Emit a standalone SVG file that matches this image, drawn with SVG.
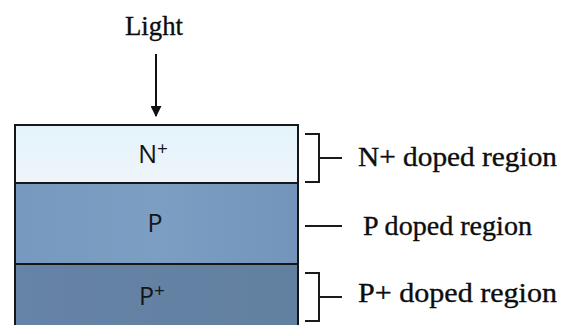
<svg xmlns="http://www.w3.org/2000/svg" width="563" height="325" viewBox="0 0 563 325">
<defs>
<linearGradient id="gN" x1="0" y1="0" x2="0" y2="1">
<stop offset="0" stop-color="#e4f3fb"/>
<stop offset="1" stop-color="#eef5fa"/>
</linearGradient>
<linearGradient id="gP" x1="0" y1="0" x2="1" y2="0">
<stop offset="0" stop-color="#7799bf"/>
<stop offset="0.5" stop-color="#7c9ec3"/>
<stop offset="1" stop-color="#7495bb"/>
</linearGradient>
<linearGradient id="gPP" x1="0" y1="0" x2="1" y2="0">
<stop offset="0" stop-color="#6683a8"/>
<stop offset="1" stop-color="#62809f"/>
</linearGradient>
<marker id="ah" viewBox="0 0 10 10" refX="9" refY="5" markerWidth="11" markerHeight="11" markerUnits="userSpaceOnUse" orient="auto">
<path d="M0,0 L10,5 L0,10 z" fill="#111"/>
</marker>
</defs>
<style>
.layer{stroke:#161616;stroke-width:2}
.inner{font-family:"Open Sans","Noto Sans",sans-serif;font-size:25px;fill:#151515;text-anchor:middle}
.sup{font-size:19px}
.lbl{font-family:"Liberation Serif","Times New Roman",serif;font-size:27px;fill:#0d0d0d;stroke:#0d0d0d;stroke-width:0.35}
.br{fill:none;stroke:#1a1a1a;stroke-width:2}
</style>
<rect width="563" height="325" fill="#ffffff"/>
<g id="light">
<text class="lbl" x="154" y="35" text-anchor="middle" textLength="58" lengthAdjust="spacingAndGlyphs">Light</text>
</g>
<g id="layer-n">
<rect class="layer" x="15" y="125" width="283" height="58" fill="url(#gN)"/>
<text class="inner" x="153" y="163">N<tspan class="sup" dy="-8">+</tspan></text>
</g>
<g id="layer-p">
<rect class="layer" x="15" y="183" width="283" height="81" fill="url(#gP)"/>
<text class="inner" x="155" y="232">P</text>
</g>
<g id="layer-pp">
<rect class="layer" x="15" y="264" width="283" height="70" fill="url(#gPP)"/>
<text class="inner" x="152" y="305">P<tspan class="sup" dy="-8">+</tspan></text>
</g>
<g id="label-n">
<text class="lbl" x="358" y="166" textLength="199" lengthAdjust="spacingAndGlyphs">N+ doped region</text>
</g>
<g id="label-p">
<text class="lbl" x="363" y="235" textLength="169" lengthAdjust="spacingAndGlyphs">P doped region</text>
</g>
<g id="label-pp">
<text class="lbl" x="358" y="302" textLength="199" lengthAdjust="spacingAndGlyphs">P+ doped region</text>
</g>
<g id="connectors">
<line x1="156" y1="54" x2="156" y2="116" stroke="#111" stroke-width="2" marker-end="url(#ah)"/>
<path class="br" d="M305,134 H319 V182 H305 M319,158 H342"/>
<path class="br" d="M305,226 H342"/>
<path class="br" d="M305,273 H319 V321 H305 M319,297 H342"/>
</g>
</svg>
